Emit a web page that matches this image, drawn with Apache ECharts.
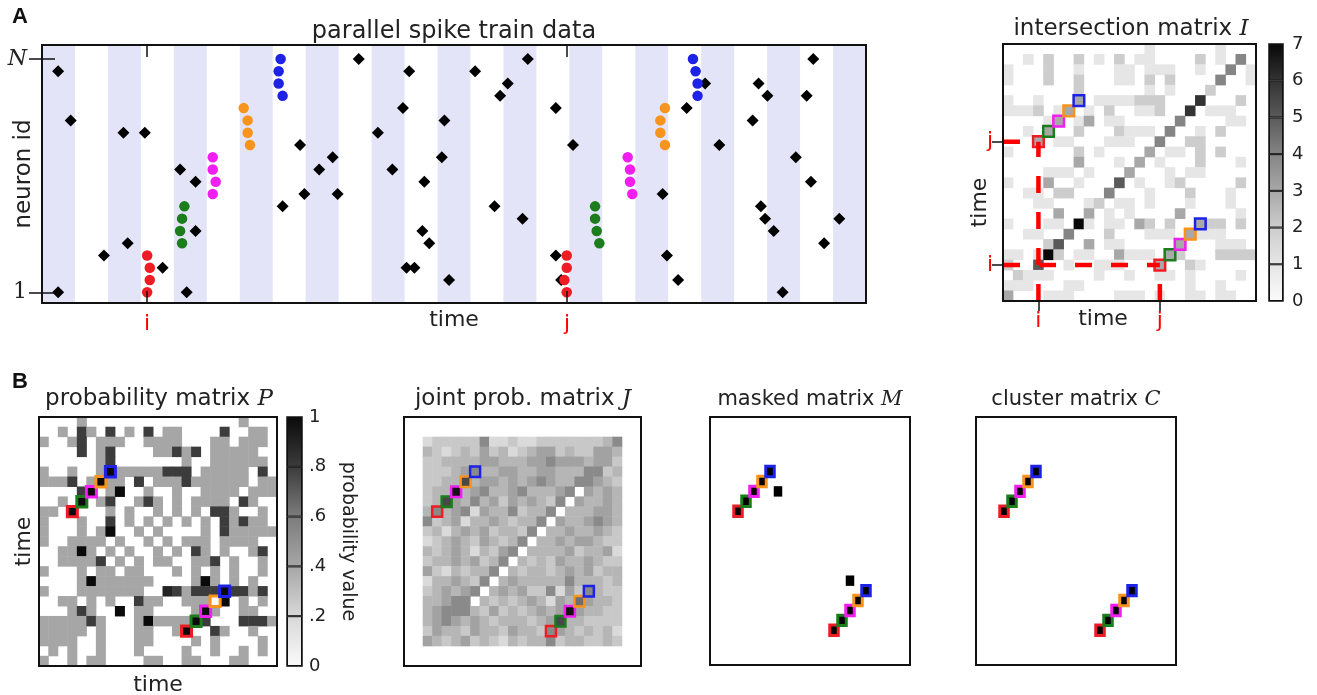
<!DOCTYPE html>
<html><head><meta charset="utf-8">
<script src="https://cdn.jsdelivr.net/npm/echarts@6/dist/echarts.min.js"></script>
<style>html,body{margin:0;padding:0;background:#fff}#chart{width:1317px;height:695px}</style>
</head><body><div id="chart"></div>
<script>
// ---------------- data ----------------
const BIN_COUNT = 25;
const N_NEURONS = 20;
const I_BIN = 3, J_BIN = 15;
const J_OFFSET = 2;               // joint matrix covers bins 2..22
const shadedBins = [0, 2, 4, 6, 8, 10, 12, 14, 16, 18, 20, 22, 24];
const rasterMarkTimes = [3.19, 15.93];
const markLabels = ['i', 'j'];

const blackSpikeTimes = [0.49,0.49,0.87,1.88,2.47,2.60,3.12,3.66,4.19,4.66,4.66,4.39,7.30,7.83,7.96,8.41,8.82,8.97,9.61,10.19,10.63,10.95,11.14,12.21,12.13,11.60,11.54,11.75,11.06,11.30,12.35,13.14,13.90,13.73,14.74,14.13,14.58,15.59,16.11,15.59,15.75,18.83,18.96,19.30,19.56,20.12,20.55,21.74,22.01,21.56,21.81,21.94,22.20,22.47,22.87,23.20,23.40,23.33,23.73,24.19];
const blackSpikeIds = [19,1,15,4,14,5,14,3,11,10,6,1,8,13,9,11,12,9,20,14,11,16,19,15,12,10,6,5,3,3,2,19,17,8,20,18,7,16,13,4,2,9,4,2,16,18,13,18,17,15,8,7,6,1,12,17,20,10,5,7];

const redSpikes = [[3.19,4],[3.27,3],[3.27,2],[3.19,1],[15.92,4],[15.92,3],[15.85,2],[15.92,1]];
const greenSpikes = [[4.32,8],[4.25,7],[4.19,6],[4.25,5],[16.78,8],[16.78,7],[16.83,6],[16.91,5]];
const magentaSpikes = [[5.18,12],[5.18,11],[5.27,10],[5.18,9],[17.77,12],[17.84,11],[17.84,10],[17.91,9]];
const orangeSpikes = [[6.12,16],[6.24,15],[6.24,14],[6.31,13],[18.90,16],[18.76,15],[18.76,14],[18.90,13]];
const blueSpikes = [[7.24,20],[7.18,19],[7.18,18],[7.30,17],[19.75,20],[19.83,19],[19.89,18],[19.89,17]];
const patternColors = ['#ee1c24', '#1b7d1b', '#f01ef0', '#f7941d', '#1e22e6'];

// intersection matrix I (top row = latest bin), values 0..7
const intersectionRows = [
"00000 00000 00001 00000 01000",
"00102 00201 02011 00002 01040",
"10002 00100 01101 11001 00401",
"10002 00200 01102 02000 04001",
"00000 00200 00001 01000 20000",
"10010 00301 11122 20006 00020",
"11120 13010 20011 20060 11100",
"00001 30130 11000 00400 00110",
"00103 00200 02111 04001 02000",
"00030 11000 11100 40022 00000",
"10000 00201 00003 01102 02000",
"00000 00300 01030 10002 00010",
"00001 11010 00300 01011 00000",
"10003 00100 05010 01200 00020",
"00110 22000 40001 00020 00100",
"00011 00012 01101 00010 00100",
"00000 30030 10100 00300 00010",
"10001 10710 11032 02003 22020",
"00110 04000 20001 11031 11000",
"00002 50030 11000 00300 01110",
"11017 20110 03111 03200 02222",
"20050 01001 11000 30021 00000",
"02111 00001 00100 11010 00010",
"11100 01100 00000 00010 01000",
"30001 11000 01110 10011 01100"
];
// probability matrix P, tenths (X = 1)
const probabilityRows = [
"00004 00000 00000 00000 04000",
"00408 40804 08044 00008 00440",
"40048 04440 04444 00044 04440",
"00008 04800 00448 48044 44400",
"00000 04800 00000 40044 44440",
"40040 04X44 44488 80444 44080",
"44480 4X440 80444 84444 44044",
"00008 X04X0 04004 00444 40444",
"0040X 04800 48404 04444 08400",
"440X0 00404 00404 04088 40040",
"40004 00804 04040 40408 48440",
"40004 04X00 40400 00408 44444",
"40044 44040 04040 44404 44400",
"0044X 40404 00404 08404 00480",
"00444 48040 40440 04480 40040",
"40004 04404 40004 04040 40040",
"00004 X4444 44000 04X40 40400",
"40004 44444 40098 4888X 88480",
"00440 40400 84400 4440X 04040",
"00048 400X0 44000 04X40 04400",
"44444 84000 4X444 4X800 08884",
"44444 04000 44004 X0084 00400",
"44440 04000 44000 04040 00040",
"04040 04000 40000 40040 04040",
"40040 44000 04400 44000 44000"
];
// joint probability matrix J (21x21), grey level 0..9
const jointRows = [
"23333 36223 22333 33334 6",
"43234 35342 34553 43355 4",
"33444 45544 45565 55455 3",
"33345 64455 44554 44663 4",
"33448 45545 45654 46654 3",
"34494 56445 64445 60545 4",
"34854 64535 45436 05445 4",
"46456 25446 34460 44455 4",
"63452 44543 44605 44565 4",
"34245 45344 36044 54454 3",
"23454 35434 60445 45543 3",
"43454 24356 04444 53445 2",
"34454 53460 43435 44543 3",
"53243 44604 34434 54534 4",
"24454 36045 44444 64443 4",
"34545 60454 53362 53643 3",
"44566 04343 45425 47544 3",
"45666 43534 34545 95443 3",
"45654 54344 43458 44333 3",
"35443 54435 44365 43434 2",
"54345 34324 34463 44334 3"
];
const upperPatternCells = [[3,15],[4,16],[5,17],[6,18],[7,19]];
const lowerPatternCells = [[15,3],[16,4],[17,5],[18,6],[19,7]];
const maskedExtraCells = [[8,17],[17,8]];
const iTicks = [0,1,2,3,4,5,6,7];
const pTicks = [0,0.2,0.4,0.6,0.8,1];

// ---------------- styling ----------------
const FONT = 'DejaVu Sans';
const TXT = '#222';
const iColorStops = ['#fafafa','#e6e6e6','#cdcdcd','#a8a8a8','#858585','#5a5a5a','#333333','#080808'];
const pColorStops = ['#fafafa','#d8d8d8','#a6a6a6','#7c7c7c','#3c3c3c','#0a0a0a'];
const jColorStops = ['#fafafa','#e8e8e8','#dadada','#c8c8c8','#b6b6b6','#a2a2a2','#8a8a8a','#6e6e6e','#484848','#121212'];

function parseRows(rows){ return rows.map(s => s.replace(/\s+/g,'').split('').map(ch => ch === 'X' ? 10 : +ch)); }
const iMatrix = parseRows(intersectionRows);
const pMatrix = parseRows(probabilityRows).map(r => r.map(d => d / 10));
const jMatrix = parseRows(jointRows);

function cells(matrix, offset){
  const out = [], n = matrix.length;
  matrix.forEach((row, k) => row.forEach((v, c) => { if (v > 0) out.push([c + offset, n - 1 - k + offset, v]); }));
  return out;
}
function valueAt(matrix, offset, c, r){ const n = matrix.length; return matrix[n - 1 - (r - offset)][c - offset]; }
function patternItems(matrix, offset, bw){
  const items = [];
  [upperPatternCells, lowerPatternCells].forEach(list => list.forEach((p, k) => {
    items.push({ value: [p[0], p[1], matrix ? valueAt(matrix, offset, p[0], p[1]) : 1],
      itemStyle: { borderColor: patternColors[k], borderWidth: bw } });
  }));
  return items;
}
function hexToRgb(h){ return [1,3,5].map(i => parseInt(h.slice(i, i + 2), 16)); }
function colorAt(stops, t){
  t = Math.max(0, Math.min(1, t));
  const x = t * (stops.length - 1), i = Math.min(Math.floor(x), stops.length - 2), f = x - i;
  const a = hexToRgb(stops[i]), b = hexToRgb(stops[i + 1]);
  return 'rgb(' + a.map((v, k) => Math.round(v + (b[k] - v) * f)).join(',') + ')';
}
function colorbar(stack, ticks, stops, xIdx, yIdx){
  const lo = ticks[0], hi = ticks[ticks.length - 1];
  return ticks.slice(0, -1).map((v, k) => ({
    type: 'bar', xAxisIndex: xIdx, yAxisIndex: yIdx, stack, barWidth: '100%', silent: true,
    data: [ticks[k + 1] - v],
    itemStyle: { borderColor: '#111', borderWidth: 1,
      color: { type: 'linear', x: 0, y: 0, x2: 0, y2: 1, colorStops: [
        { offset: 0, color: colorAt(stops, (ticks[k + 1] - lo) / (hi - lo)) },
        { offset: 1, color: colorAt(stops, (v - lo) / (hi - lo)) }] } }
  }));
}
const binCats = Array.from({ length: BIN_COUNT }, (_, k) => String(k));
const frame = { show: true, borderColor: '#111', borderWidth: 2, backgroundColor: 'transparent', z: 10, outerBoundsMode: 'none', containLabel: false };
const hiddenCat = (g) => ({ type: 'category', gridIndex: g, data: binCats, show: false });

// ---------------- layout ----------------
const grid = [
  Object.assign({ left: 42, top: 45, width: 824, height: 258 }, frame),          // 0 raster
  Object.assign({ left: 1003, top: 44, width: 253, height: 257 }, frame, { show: false }), // 1 I heatmap
  Object.assign({ left: 1003, top: 44, width: 253, height: 257 }, frame),       // 2 I overlay
  Object.assign({ left: 1269, top: 44, width: 14, height: 257 }, frame, { borderWidth: 1.5 }), // 3 I colorbar
  Object.assign({ left: 39, top: 417, width: 238, height: 249 }, frame),          // 4 P
  Object.assign({ left: 287, top: 417, width: 15, height: 249 }, frame, { borderWidth: 1.5 }), // 5 P colorbar
  Object.assign({ left: 404, top: 417, width: 237, height: 249 }, frame),         // 6 J
  Object.assign({ left: 710, top: 417, width: 200, height: 248 }, frame),         // 7 M
  Object.assign({ left: 976, top: 417, width: 200, height: 248 }, frame)          // 8 C
];

const redLabel = { color: '#ff0000', fontSize: 22, fontFamily: FONT };
const nameStyle = { color: TXT, fontSize: 22, fontFamily: FONT };
const markFmt = (vals) => (v) => markLabels[vals.reduce((b, x, k) => Math.abs(x - v) < Math.abs(vals[b] - v) ? k : b, 0)];
const iMarks = [I_BIN + 0.5, J_BIN + 0.5];
const NM = { nameMoveOverlap: false };

const xAxis = [
  Object.assign({ type: 'value', gridIndex: 0, min: 0, max: BIN_COUNT, position: 'bottom', z: 11,
    axisLine: { show: false }, splitLine: { show: false },
    axisTick: { inside: true, length: 12, customValues: rasterMarkTimes, lineStyle: { color: '#111', width: 1.5 } },
    axisLabel: Object.assign({ customValues: rasterMarkTimes, margin: 10, formatter: markFmt(rasterMarkTimes) }, redLabel),
    name: 'time', nameLocation: 'middle', nameGap: 6, nameTextStyle: nameStyle }, NM),
  { type: 'value', gridIndex: 0, min: 0, max: BIN_COUNT, position: 'top', z: 11,
    axisLine: { show: false }, splitLine: { show: false }, axisLabel: { show: false },
    axisTick: { inside: true, length: 12, customValues: rasterMarkTimes, lineStyle: { color: '#111', width: 1.5 } } },
  hiddenCat(1),
  Object.assign({ type: 'value', gridIndex: 2, min: 0, max: BIN_COUNT, position: 'bottom', z: 11,
    axisLine: { show: false }, splitLine: { show: false },
    axisTick: { show: false },
    axisLabel: Object.assign({ customValues: iMarks, margin: 9, formatter: markFmt(iMarks) }, redLabel),
    name: 'time', nameLocation: 'middle', nameGap: 7,
    nameTextStyle: Object.assign({ padding: [0, 53, 0, 0] }, nameStyle) }, NM),
  { type: 'value', gridIndex: 2, min: 0, max: BIN_COUNT, position: 'top', z: 11,
    axisLine: { show: false }, splitLine: { show: false }, axisLabel: { show: false },
    axisTick: { inside: true, length: 10, customValues: iMarks, lineStyle: { color: '#111', width: 1.5 } } },
  { type: 'category', gridIndex: 3, data: ['cb'], show: false },
  Object.assign({ type: 'category', gridIndex: 4, data: binCats, axisLine: { show: false }, axisTick: { show: false }, axisLabel: { show: false },
    name: 'time', nameLocation: 'middle', nameGap: 8, nameTextStyle: nameStyle }, NM),
  { type: 'category', gridIndex: 5, data: ['cb'], show: false },
  hiddenCat(6), hiddenCat(7), hiddenCat(8)
];

const yAxis = [
  Object.assign({ type: 'value', gridIndex: 0, min: 0.13, max: 21.14, position: 'left', z: 11,
    axisLine: { show: false }, splitLine: { show: false },
    axisTick: { inside: true, length: 13, customValues: [1, N_NEURONS], lineStyle: { color: '#111', width: 1.5 } },
    axisLabel: { customValues: [1, N_NEURONS], margin: 15, color: TXT, fontSize: 22, fontFamily: 'DejaVu Serif',
      formatter: (v) => Math.round(v) === N_NEURONS ? '{n|N}' : String(Math.round(v)),
      rich: { n: { fontFamily: 'DejaVu Serif', fontStyle: 'italic', fontSize: 22, color: TXT } } },
    name: 'neuron id', nameLocation: 'middle', nameGap: 6, nameTextStyle: Object.assign({}, nameStyle, { fontSize: 23 }) }, NM),
  { type: 'value', gridIndex: 0, min: 0.13, max: 21.14, position: 'right', z: 11,
    axisLine: { show: false }, splitLine: { show: false }, axisLabel: { show: false },
    axisTick: { inside: true, length: 13, customValues: [1, N_NEURONS], lineStyle: { color: '#111', width: 1.5 } } },
  hiddenCat(1),
  Object.assign({ type: 'value', gridIndex: 2, min: 0, max: BIN_COUNT, position: 'left', z: 11,
    axisLine: { show: false }, splitLine: { show: false }, axisTick: { show: false },
    axisLabel: Object.assign({ customValues: iMarks, margin: 10, formatter: markFmt(iMarks) }, redLabel),
    name: 'time', nameLocation: 'middle', nameGap: 12,
    nameTextStyle: Object.assign({ padding: [0, 60, 0, 0] }, nameStyle) }, NM),
  { type: 'value', gridIndex: 2, min: 0, max: BIN_COUNT, position: 'right', z: 11,
    axisLine: { show: false }, splitLine: { show: false }, axisLabel: { show: false },
    axisTick: { inside: true, length: 11, customValues: iMarks, lineStyle: { color: '#111', width: 1.5 } } },
  { type: 'value', gridIndex: 3, min: 0, max: 7, interval: 1, position: 'right',
    axisLine: { show: false }, axisTick: { show: false }, splitLine: { show: false },
    axisLabel: { margin: 9, color: TXT, fontSize: 18, fontFamily: FONT } },
  Object.assign({ type: 'category', gridIndex: 4, data: binCats, axisLine: { show: false }, axisTick: { show: false }, axisLabel: { show: false },
    name: 'time', nameLocation: 'middle', nameGap: 4, nameTextStyle: nameStyle }, NM),
  Object.assign({ type: 'value', gridIndex: 5, min: 0, max: 1, interval: 0.2, position: 'right',
    axisLine: { show: false }, axisTick: { show: false }, splitLine: { show: false },
    axisLabel: { margin: 7, color: TXT, fontSize: 18, fontFamily: FONT,
      formatter: (v) => v < 0.001 ? '0' : v > 0.999 ? '1' : '.' + Math.round(v * 10) },
    name: 'probability value', nameLocation: 'middle', nameGap: 36, nameRotate: -90,
    nameTextStyle: { color: TXT, fontSize: 19, fontFamily: FONT } }, NM),
  hiddenCat(6), hiddenCat(7), hiddenCat(8)
];

// ---------------- series ----------------
const series = [];
series.push({ type: 'scatter', name: 'spikes', xAxisIndex: 0, yAxisIndex: 0, symbol: 'diamond', symbolSize: 12,
  data: blackSpikeTimes.map((t, k) => [t, blackSpikeIds[k]]), itemStyle: { color: '#000', opacity: 1 },
  markArea: { silent: true, itemStyle: { color: '#e4e4f8' }, data: shadedBins.map(b => [{ xAxis: b }, { xAxis: b + 1 }]) } });
[redSpikes, greenSpikes, magentaSpikes, orangeSpikes, blueSpikes].forEach((d, k) => series.push({
  type: 'scatter', xAxisIndex: 0, yAxisIndex: 0, symbol: 'circle', symbolSize: 10.5, data: d,
  itemStyle: { color: patternColors[k], opacity: 1 } }));

const idx = {};
idx.I = series.push({ type: 'heatmap', xAxisIndex: 2, yAxisIndex: 2, progressive: 0, data: cells(iMatrix, 0) }) - 1;
const iDashSegments = [
  [[0, I_BIN + 0.5], [J_BIN + 0.5, I_BIN + 0.5]],
  [[0, J_BIN + 0.5], [I_BIN + 0.5, J_BIN + 0.5]],
  [[I_BIN + 0.5, 0], [I_BIN + 0.5, J_BIN + 0.5]],
  [[J_BIN + 0.5, 0], [J_BIN + 0.5, I_BIN + 0.5]]
];
iDashSegments.forEach(seg => series.push({ type: 'line', xAxisIndex: 3, yAxisIndex: 3, data: seg, symbol: 'none', silent: true,
  lineStyle: { color: '#ff0000', width: 4.5, type: [17, 19], cap: 'butt' } }));
idx.IH = series.push({ type: 'heatmap', xAxisIndex: 2, yAxisIndex: 2, progressive: 0, data: patternItems(iMatrix, 0, 2.5) }) - 1;
colorbar('cbI', iTicks, iColorStops, 5, 5).forEach(s => series.push(s));

idx.P = series.push({ type: 'heatmap', xAxisIndex: 6, yAxisIndex: 6, progressive: 0, data: cells(pMatrix, 0) }) - 1;
idx.PH = series.push({ type: 'heatmap', xAxisIndex: 6, yAxisIndex: 6, progressive: 0, data: patternItems(pMatrix, 0, 3) }) - 1;
colorbar('cbP', pTicks, pColorStops, 7, 7).forEach(s => series.push(s));

idx.J = series.push({ type: 'heatmap', xAxisIndex: 8, yAxisIndex: 8, progressive: 0, data: cells(jMatrix, J_OFFSET) }) - 1;
idx.JH = series.push({ type: 'heatmap', xAxisIndex: 8, yAxisIndex: 8, progressive: 0, data: patternItems(jMatrix, J_OFFSET, 2.5) }) - 1;

idx.M = series.push({ type: 'heatmap', xAxisIndex: 9, yAxisIndex: 9, progressive: 0,
  data: patternItems(null, 0, 3).concat(maskedExtraCells.map(p => [p[0], p[1], 1])) }) - 1;
idx.C = series.push({ type: 'heatmap', xAxisIndex: 10, yAxisIndex: 10, progressive: 0, data: patternItems(null, 0, 3) }) - 1;

const visualMap = [
  { type: 'continuous', show: false, seriesIndex: [idx.I, idx.IH], min: 0, max: 7, inRange: { color: iColorStops } },
  { type: 'continuous', show: false, seriesIndex: [idx.P, idx.PH], min: 0, max: 1, inRange: { color: pColorStops } },
  { type: 'continuous', show: false, seriesIndex: [idx.J, idx.JH], min: 0, max: 9, inRange: { color: jColorStops } },
  { type: 'continuous', show: false, seriesIndex: [idx.M, idx.C], min: 0, max: 1, inRange: { color: ['#ffffff', '#000000'] } }
];

const tStyle = (fs) => ({ fontSize: fs, fontWeight: 'normal', fontFamily: FONT, color: TXT,
  rich: { m: { fontSize: fs, fontFamily: 'DejaVu Serif', fontStyle: 'italic', color: TXT } } });
const title = [
  { text: 'A', left: 12, top: 6, padding: 0, textStyle: { fontSize: 22, fontWeight: 'bold', fontFamily: 'Liberation Sans', color: '#111' } },
  { text: 'B', left: 12, top: 371, padding: 0, textStyle: { fontSize: 22, fontWeight: 'bold', fontFamily: 'Liberation Sans', color: '#111' } },
  { text: 'parallel spike train data', left: 454, top: 20, padding: 0, textAlign: 'center', textStyle: tStyle(24) },
  { text: 'intersection matrix {m|I}', left: 1131, top: 18, padding: 0, textAlign: 'center', textStyle: tStyle(23) },
  { text: 'probability matrix {m|P}', left: 159, top: 388, padding: 0, textAlign: 'center', textStyle: tStyle(23) },
  { text: 'joint prob. matrix {m|J}', left: 523, top: 388, padding: 0, textAlign: 'center', textStyle: tStyle(23) },
  { text: 'masked matrix {m|M}', left: 810, top: 389, padding: 0, textAlign: 'center', textStyle: tStyle(21) },
  { text: 'cluster matrix {m|C}', left: 1076, top: 389, padding: 0, textAlign: 'center', textStyle: tStyle(21) }
];

const chart = echarts.init(document.getElementById('chart'), null, { renderer: 'canvas' });
chart.setOption({ animation: false, backgroundColor: '#fff', title, grid, xAxis, yAxis, visualMap, series });
</script></body></html>
